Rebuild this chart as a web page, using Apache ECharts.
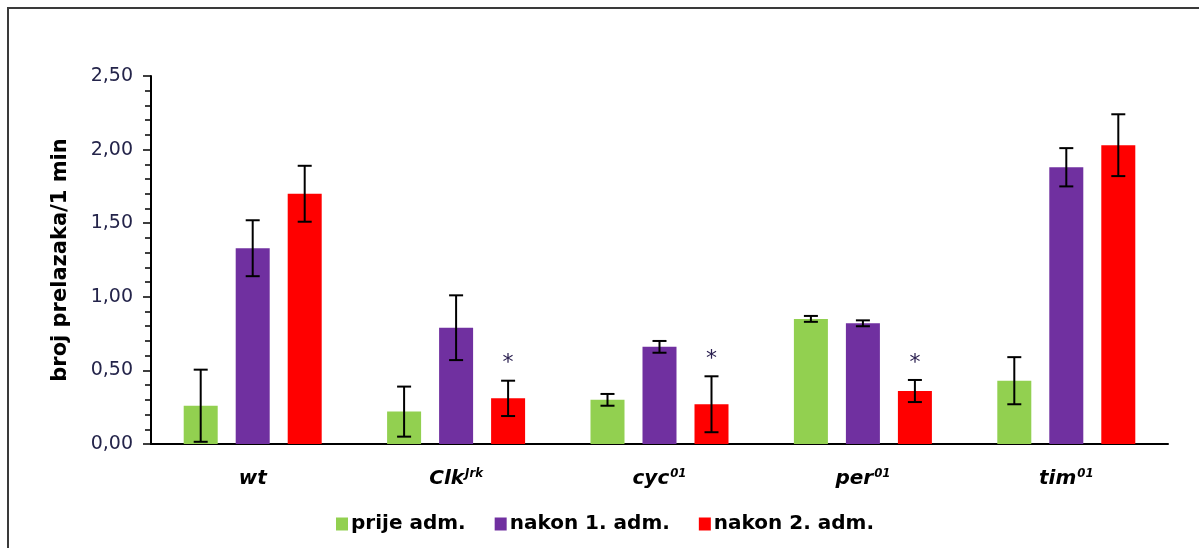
<!DOCTYPE html>
<html>
<head>
<meta charset="utf-8">
<title>broj prelazaka</title>
<script src="https://cdn.jsdelivr.net/npm/echarts@6/dist/echarts.min.js"></script>
<style>
  html, body { margin: 0; padding: 0; background: #ffffff; }
  #chart { width: 1199px; height: 548px; }
</style>
</head>
<body>
<div id="chart"></div>
<script>
// Genotypes (base name + superscript allele)
const categories = ['wt', 'Clk', 'cyc', 'per', 'tim'];
const superscripts = ['', 'Jrk', '01', '01', '01'];

// Series names
const seriesNames = ['prije adm.', 'nakon 1. adm.', 'nakon 2. adm.'];

// Mean crossings per minute and their error (±)
const prijeValues  = [0.26, 0.22, 0.30, 0.85, 0.43];
const prijeErrors  = [0.245, 0.17, 0.04, 0.02, 0.16];
const nakon1Values = [1.33, 0.79, 0.66, 0.82, 1.88];
const nakon1Errors = [0.19, 0.22, 0.04, 0.02, 0.13];
const nakon2Values = [1.70, 0.31, 0.27, 0.36, 2.03];
const nakon2Errors = [0.19, 0.12, 0.19, 0.075, 0.21];

// Significance markers (*) per genotype for each series
const prijeSignificant  = [false, false, false, false, false];
const nakon1Significant = [false, false, false, false, false];
const nakon2Significant = [false, true, true, true, false];

// Y axis ticks
const yMin = 0, yMax = 2.5, yInterval = 0.5;

const colors = ['#92D050', '#7030A0', '#FF0000'];
const BAR_WIDTH = 34;
const BAR_GAP = 18;

const chart = echarts.init(document.getElementById('chart'), null, { renderer: 'canvas' });

function errorSeries(values, errors, flags, idx) {
  const offset = (BAR_WIDTH + BAR_GAP) * (idx - 1);
  return {
    type: 'custom',
    name: 'err' + idx,
    z: 10,
    silent: true,
    data: values.map((v, i) => [i, v, errors[i], flags[i] ? 1 : 0]),
    renderItem: function (params, api) {
      const i = api.value(0), v = api.value(1), e = api.value(2);
      const cx = api.coord([i, v])[0] + offset;
      const yTop = api.coord([i, v + e])[1];
      const yBot = api.coord([i, Math.max(v - e, 0)])[1];
      const cap = 7;
      const st = { stroke: '#000', lineWidth: 2 };
      const children = [
        { type: 'line', shape: { x1: cx, y1: yTop, x2: cx, y2: yBot }, style: st },
        { type: 'line', shape: { x1: cx - cap, y1: yTop, x2: cx + cap, y2: yTop }, style: st },
        { type: 'line', shape: { x1: cx - cap, y1: yBot, x2: cx + cap, y2: yBot }, style: st }
      ];
      if (api.value(3)) {
        children.push({
          type: 'text',
          style: {
            x: cx, y: yTop - 17, text: '*',
            fill: '#2b2050', font: '22px "DejaVu Sans"',
            align: 'center', verticalAlign: 'middle'
          }
        });
      }
      return { type: 'group', children: children };
    }
  };
}

const option = {
  animation: false,
  backgroundColor: '#ffffff',
  graphic: [{
    type: 'rect',
    shape: { x: 8, y: 8, width: 1210, height: 560 },
    style: { fill: 'none', stroke: '#3a3a3a', lineWidth: 2 },
    silent: true
  }],
  grid: { left: 151, right: 31, top: 76, bottom: 104 },
  legend: {
    data: seriesNames,
    left: 331,
    top: 509,
    icon: 'rect',
    itemWidth: 12,
    itemHeight: 13,
    itemGap: 29,
    textStyle: {
      fontFamily: '"DejaVu Sans"',
      fontWeight: 'bold',
      fontSize: 20,
      color: '#000',
      padding: [0, 0, 0, -2]
    }
  },
  xAxis: {
    type: 'category',
    data: categories,
    axisLine: { lineStyle: { color: '#000', width: 2 } },
    axisTick: { show: false },
    axisLabel: {
      margin: 23,
      formatter: function (val, i) {
        const sup = superscripts[i];
        return '{b|' + val + '}' + (sup ? '{s|' + sup + '}' : '');
      },
      rich: {
        b: {
          fontFamily: '"DejaVu Sans"', fontStyle: 'italic', fontWeight: 'bold',
          fontSize: 20, color: '#000', lineHeight: 24
        },
        s: {
          fontFamily: '"DejaVu Sans Condensed", "DejaVu Sans"', fontStyle: 'italic', fontWeight: 'bold',
          fontSize: 13, color: '#000', verticalAlign: 'top', lineHeight: 24, padding: [0, 0, 8, 1]
        }
      }
    }
  },
  yAxis: {
    type: 'value',
    min: yMin,
    max: yMax,
    interval: yInterval,
    name: 'broj prelazaka/1 min',
    nameLocation: 'middle',
    nameGap: 80,
    nameTextStyle: {
      fontFamily: '"DejaVu Sans"', fontWeight: 'bold', fontSize: 21, color: '#000'
    },
    axisLine: { show: true, lineStyle: { color: '#000', width: 2 } },
    axisTick: { show: true, length: 8, lineStyle: { color: '#000', width: 1.5 } },
    minorTick: { show: true, splitNumber: 5, length: 6, lineStyle: { color: '#000', width: 1.5 } },
    splitLine: { show: false },
    axisLabel: {
      margin: 18,
      fontFamily: '"DejaVu Sans"',
      fontSize: 19,
      color: '#24244a',
      formatter: v => v.toFixed(2).replace('.', ',')
    }
  },
  series: [
    {
      type: 'bar', name: seriesNames[0], data: prijeValues,
      barWidth: BAR_WIDTH, barGap: (BAR_GAP / BAR_WIDTH * 100) + '%',
      itemStyle: { color: colors[0] }
    },
    {
      type: 'bar', name: seriesNames[1], data: nakon1Values,
      barWidth: BAR_WIDTH, barGap: (BAR_GAP / BAR_WIDTH * 100) + '%',
      itemStyle: { color: colors[1] }
    },
    {
      type: 'bar', name: seriesNames[2], data: nakon2Values,
      barWidth: BAR_WIDTH, barGap: (BAR_GAP / BAR_WIDTH * 100) + '%',
      itemStyle: { color: colors[2] }
    },
    errorSeries(prijeValues, prijeErrors, prijeSignificant, 0),
    errorSeries(nakon1Values, nakon1Errors, nakon1Significant, 1),
    errorSeries(nakon2Values, nakon2Errors, nakon2Significant, 2)
  ]
};

chart.setOption(option);
</script>
</body>
</html>
